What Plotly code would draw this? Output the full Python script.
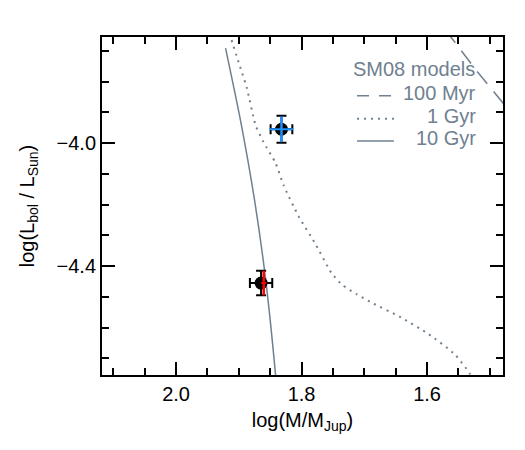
import plotly.graph_objects as go

# ---------------- data ----------------
model_title = "SM08 models"
age_labels = ["100 Myr", "1 Gyr", "10 Gyr"]

iso_100myr_logm = [1.5705, 1.5195, 1.4749]
iso_100myr_logl = [-3.6325, -3.769, -3.8797]

iso_1gyr_logm = [1.918, 1.9131, 1.9004, 1.8876, 1.8733, 1.8606, 1.8414, 1.8287,
                 1.8048, 1.7777, 1.7522, 1.7347, 1.7124, 1.6900, 1.6422, 1.5976,
                 1.5562, 1.5323, 1.5275]
iso_1gyr_logl = [-3.622, -3.655, -3.7366, -3.8179, -3.9415, -3.9967, -4.0650, -4.1366,
                 -4.2374, -4.3285, -4.4228, -4.4618, -4.4911, -4.5171, -4.5659, -4.6211,
                 -4.6862, -4.7480, -4.770]

iso_10gyr_logm = [1.9211, 1.8974, 1.8749, 1.8571, 1.8414, 1.8405]
iso_10gyr_logl = [-3.6911, -3.9252, -4.1854, -4.4455, -4.7545, -4.7772]

obj_logm = [1.832, 1.8645]
obj_logm_err = [0.0173, 0.0178]
obj_logl = [-3.955, -4.455]
obj_logl_err = [0.044, 0.040]

alt_logm = [1.832, 1.8603]
alt_logm_err = [0.019, 0.004]
alt_logl = [-3.955, -4.455]
alt_logl_err = [0.042, 0.040]
alt_colors = ["#1E90FF", "#FF0000"]

x_range = [2.118, 1.479]
y_range = [-4.754, -3.655]

# ---------------- figure ----------------
model_color = "#708090"
font_family = "Liberation Sans, Arial, Helvetica, sans-serif"

fig = go.Figure()

fig.add_trace(go.Scatter(x=iso_100myr_logm, y=iso_100myr_logl, mode="lines",
                         line=dict(color=model_color, width=1.5, dash="16px,10px"),
                         hoverinfo="skip"))
fig.add_trace(go.Scatter(x=iso_1gyr_logm, y=iso_1gyr_logl, mode="lines",
                         line=dict(color=model_color, width=2, dash="2px,5px",
                                   shape="spline", smoothing=0.6),
                         hoverinfo="skip"))
fig.add_trace(go.Scatter(x=iso_10gyr_logm, y=iso_10gyr_logl, mode="lines",
                         line=dict(color=model_color, width=1.5,
                                   shape="spline", smoothing=0.6),
                         hoverinfo="skip"))

fig.add_trace(go.Scatter(
    x=obj_logm, y=obj_logl, mode="markers",
    marker=dict(color="black", size=13),
    error_x=dict(type="data", array=obj_logm_err, color="black", thickness=2, width=5),
    error_y=dict(type="data", array=obj_logl_err, color="black", thickness=2, width=5),
))

for i, c in enumerate(alt_colors):
    fig.add_trace(go.Scatter(
        x=[alt_logm[i]], y=[alt_logl[i]], mode="markers",
        marker=dict(color=c, size=0.1, opacity=0),
        error_x=dict(type="data", array=[alt_logm_err[i]], color=c, thickness=2, width=0),
        error_y=dict(type="data", array=[alt_logl_err[i]], color=c, thickness=2.5, width=0),
    ))

# legend (text right-aligned, sample lines on the left)
fig.add_annotation(xref="paper", yref="paper", x=0.935, y=0.905, text=model_title,
                   showarrow=False, xanchor="right", yanchor="middle",
                   font=dict(color=model_color, size=20, family=font_family))
sample_dash = ["12px,10px", "2px,5px", "solid"]
sample_y = [0.834, 0.766, 0.700]
for lbl, yy, dsh in zip(age_labels, sample_y, sample_dash):
    fig.add_annotation(xref="paper", yref="paper", x=0.937, y=yy, text=lbl,
                       showarrow=False, xanchor="right", yanchor="middle",
                       font=dict(color=model_color, size=20, family=font_family))
    fig.add_shape(type="line", xref="paper", yref="paper", x0=0.636, x1=0.728,
                  y0=yy - 0.008, y1=yy - 0.008,
                  line=dict(color=model_color, width=2 if dsh == "2px,5px" else 1.5, dash=dsh))

axis_common = dict(
    showline=True, linewidth=2, linecolor="black", mirror="allticks",
    ticks="inside", ticklen=13, tickwidth=2, tickcolor="black",
    showgrid=False, zeroline=False, tickformat=".1f",
    tickfont=dict(size=20, color="black", family=font_family),
)

fig.update_xaxes(range=x_range, tickmode="linear", tick0=1.6, dtick=0.2,
                 minor=dict(ticks="inside", ticklen=7, tickwidth=2, tickcolor="black",
                            tick0=1.6, dtick=0.05, showgrid=False),
                 title=dict(text="log(M/M<sub>Jup</sub>)", standoff=9,
                            font=dict(size=20, color="black", family=font_family)),
                 **axis_common)
fig.update_yaxes(range=y_range, tickmode="linear", tick0=-4.0, dtick=0.4,
                 minor=dict(ticks="inside", ticklen=7, tickwidth=2, tickcolor="black",
                            tick0=-4.0, dtick=0.1, showgrid=False),
                 title=dict(text="log(L<sub>bol</sub> / L<sub>Sun</sub>)", standoff=17,
                            font=dict(size=20, color="black", family=font_family)),
                 **axis_common)

fig.update_layout(
    width=525, height=450,
    margin=dict(l=102, r=22, t=37, b=75),
    plot_bgcolor="white", paper_bgcolor="white",
    showlegend=False,
    font=dict(family=font_family, size=20, color="black"),
)

fig.write_html("out.html")
